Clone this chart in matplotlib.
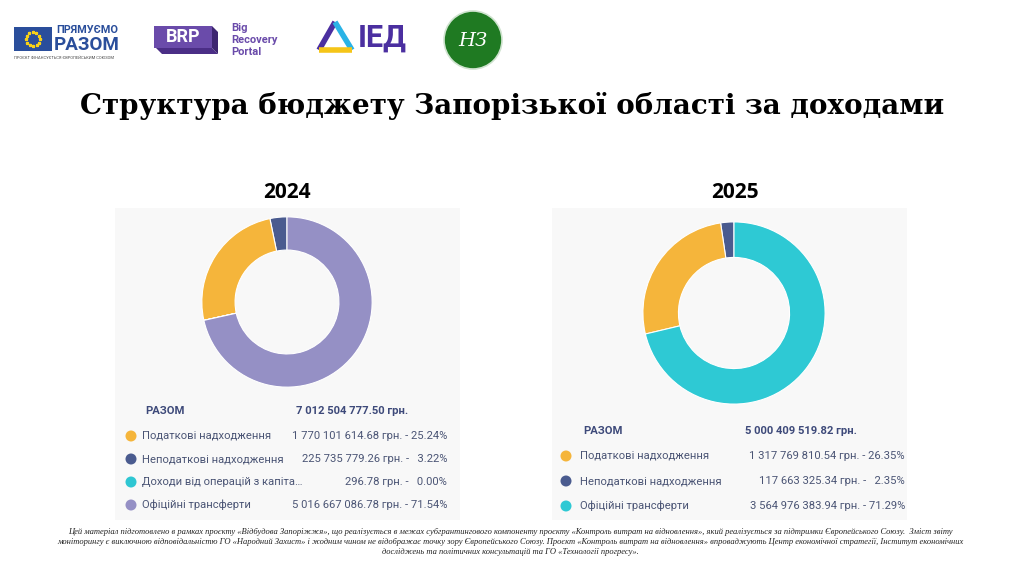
import matplotlib
matplotlib.use('Agg')
import matplotlib.pyplot as plt
from matplotlib.patches import Rectangle, Circle, Polygon
import numpy as np

# DATA #####
years = ['2024', '2025']
total_2024 = '7 012 504 777.50 грн.'
total_2025 = '5 000 409 519.82 грн.'

labels_2024 = ['Податкові надходження', 'Неподаткові надходження',
               'Доходи від операцій з капіта…', 'Офіційні трансферти']
values_2024 = [1770101614.68, 225735779.26, 296.78, 5016667086.78]
amounts_2024 = ['1 770 101 614.68 грн. - 25.24%', '225 735 779.26 грн. -   3.22%',
                '296.78 грн. -   0.00%', '5 016 667 086.78 грн. - 71.54%']

labels_2025 = ['Податкові надходження', 'Неподаткові надходження', 'Офіційні трансферти']
values_2025 = [1317769810.54, 117663325.34, 3564976383.94]
amounts_2025 = ['1 317 769 810.54 грн. - 26.35%', '117 663 325.34 грн. -   2.35%',
                '3 564 976 383.94 грн. - 71.29%']

colors_2024 = ['#F5B53B', '#4A5B8F', '#2EC6D2', '#9590C5']
colors_2025 = ['#F5B53B', '#4A5B8F', '#2EC9D4']

title = 'Структура бюджету Запорізької області за доходами'
footer = ('Цей матеріал підготовлено в рамках проєкту «Відбудова Запоріжжя», що реалізується в межах субгрантингового компоненту проєкту «Контроль витрат на відновлення», який реалізується за підтримки Європейського Союзу.  Зміст звіту\n'
          'моніторингу є виключною відповідальністю ГО «Народний Захист» і жодним чином не відображає точку зору Європейського Союзу. Проєкт «Контроль витрат на відновлення» впроваджують Центр економічної стратегії, Інститут економічних\n'
          'досліджень та політичних консультацій та ГО «Технології прогресу».')

W, H = 1024, 576
fig = plt.figure(figsize=(W/100, H/100), dpi=100)
fig.patch.set_facecolor('white')

# background axes in pixel coords (y down)
bg = fig.add_axes([0, 0, 1, 1])
bg.set_xlim(0, W)
bg.set_ylim(H, 0)
bg.axis('off')

def px_axes(x, y, w, h):
    return fig.add_axes([x/W, 1-(y+h)/H, w/W, h/H])

ui = 'Roboto'
lblcol = '#4B5575'
boldcol = '#3E4A7A'
fs = 8.1

# panels
bg.add_patch(Rectangle((115, 208), 345, 312, facecolor='#F8F8F8', edgecolor='none'))
bg.add_patch(Rectangle((552, 208), 355, 312, facecolor='#F8F8F8', edgecolor='none'))

# titles
bg.text(512, 106, title, ha='center', va='center', fontsize=20, fontweight='bold',
        family='DejaVu Serif', color='black')
bg.text(287, 192, years[0], ha='center', va='center', fontsize=15, fontweight='bold', family='Open Sans')
bg.text(735, 192, years[1], ha='center', va='center', fontsize=15, fontweight='bold', family='Open Sans')

# donuts (counterclockwise from top: non-tax, tax, capital, transfers)
def donut(cx, cy, r, vals, cols, ratio):
    ax = px_axes(cx-r, cy-r, 2*r, 2*r)
    order = [1, 0] + list(range(2, len(vals)))
    ax.pie([vals[i] for i in order], colors=[cols[i] for i in order], startangle=90,
           counterclock=True, radius=1,
           wedgeprops=dict(width=1-ratio, edgecolor='white', linewidth=0.8))
    ax.set_xlim(-1.01, 1.01)
    ax.set_ylim(-1.01, 1.01)
    ax.set_aspect('equal')
    ax.axis('off')

donut(287, 302, 86, values_2024, colors_2024, 0.61)
donut(734, 313, 92, values_2025, colors_2025, 0.61)

# legends
def legend(x_dot, x_lbl, x_val_left, x_right, y0, dy, total, labels, amounts, cols, tot_y):
    bg.text(x_lbl + 3, tot_y, 'РАЗОМ', ha='left', va='center', fontsize=fs, fontweight='bold',
            family=ui, color=boldcol)
    bg.text(x_val_left, tot_y, total, ha='left', va='center', fontsize=fs, fontweight='bold',
            family=ui, color=boldcol)
    for i, (lb, am, c) in enumerate(zip(labels, amounts, cols)):
        y = y0 + i*dy
        bg.add_patch(Circle((x_dot, y), 5.5, facecolor=c, edgecolor='none'))
        bg.text(x_lbl, y, lb, ha='left', va='center', fontsize=fs, family=ui, color=lblcol)
        bg.text(x_right, y, am, ha='right', va='center', fontsize=fs, family=ui, color=lblcol)

legend(131, 142, 296, 447, 436, 23, total_2024, labels_2024, amounts_2024, colors_2024, 411)
legend(566, 580, 745, 905, 456, 25, total_2025, labels_2025, amounts_2025, colors_2025, 431)

# footer
bg.text(510, 542, footer, ha='center', va='center', fontsize=6.1, style='italic',
        family='Liberation Serif', color='#222222', linespacing=1.35)

# logos (simplified)
bg.add_patch(Rectangle((14, 27), 38, 24, facecolor='#2A4E9B', edgecolor='none'))
for a in np.linspace(0, 2*np.pi, 12, endpoint=False):
    bg.plot(33 + 7*np.cos(a), 39 + 7*np.sin(a), marker='*', color='#F7D117', markersize=2.2)
bg.text(56, 30, 'ПРЯМУЄМО', ha='left', va='center', fontsize=7.8, fontweight='bold',
        family='Roboto', color='#2A4E9B')
bg.text(54, 45.5, 'РАЗОМ', ha='left', va='center', fontsize=13.5, fontweight='bold',
        family='Roboto', color='#2A4E9B')
bg.text(14, 58, 'ПРОЄКТ ФІНАНСУЄТЬСЯ ЄВРОПЕЙСЬКИМ СОЮЗОМ', ha='left', va='center', fontsize=2.9,
        family='Roboto', color='#444444')

bg.add_patch(Polygon([[156, 48], [212, 48], [218, 54], [162, 54]], closed=True,
                     facecolor='#4B2E86', edgecolor='none'))
bg.add_patch(Polygon([[212, 26], [218, 32], [218, 54], [212, 48]], closed=True,
                     facecolor='#3D2570', edgecolor='none'))
bg.add_patch(Rectangle((154, 26), 58, 22, facecolor='#6A4BAA', edgecolor='none'))
bg.text(183, 37.5, 'BRP', ha='center', va='center', fontsize=13, fontweight='bold',
        family='Roboto', color='white')
for i, w in enumerate(['Big', 'Recovery', 'Portal']):
    bg.text(231, 28 + i*12, w, ha='left', va='center', fontsize=8, fontweight='bold',
            family='Roboto', color='#6A4BAA')

bg.plot([335, 319], [22, 50], color='#4B2FA0', lw=4, solid_capstyle='butt')
bg.plot([335, 352], [22, 50], color='#2AB3E6', lw=4, solid_capstyle='butt')
bg.plot([319, 352], [50, 50], color='#F5C518', lw=4, solid_capstyle='butt')
bg.text(358, 38, 'ІЕД', ha='left', va='center', fontsize=22, fontweight='bold',
        family='Roboto', color='#4B2FA0')

bg.add_patch(Circle((473, 40), 29, facecolor='#1F7A22', edgecolor='#CFE3CF', linewidth=1.2))
bg.text(473, 41, 'НЗ', ha='center', va='center', fontsize=14, style='italic',
        family='DejaVu Serif', color='white')

fig.savefig('out.png', dpi=100, facecolor='white')
